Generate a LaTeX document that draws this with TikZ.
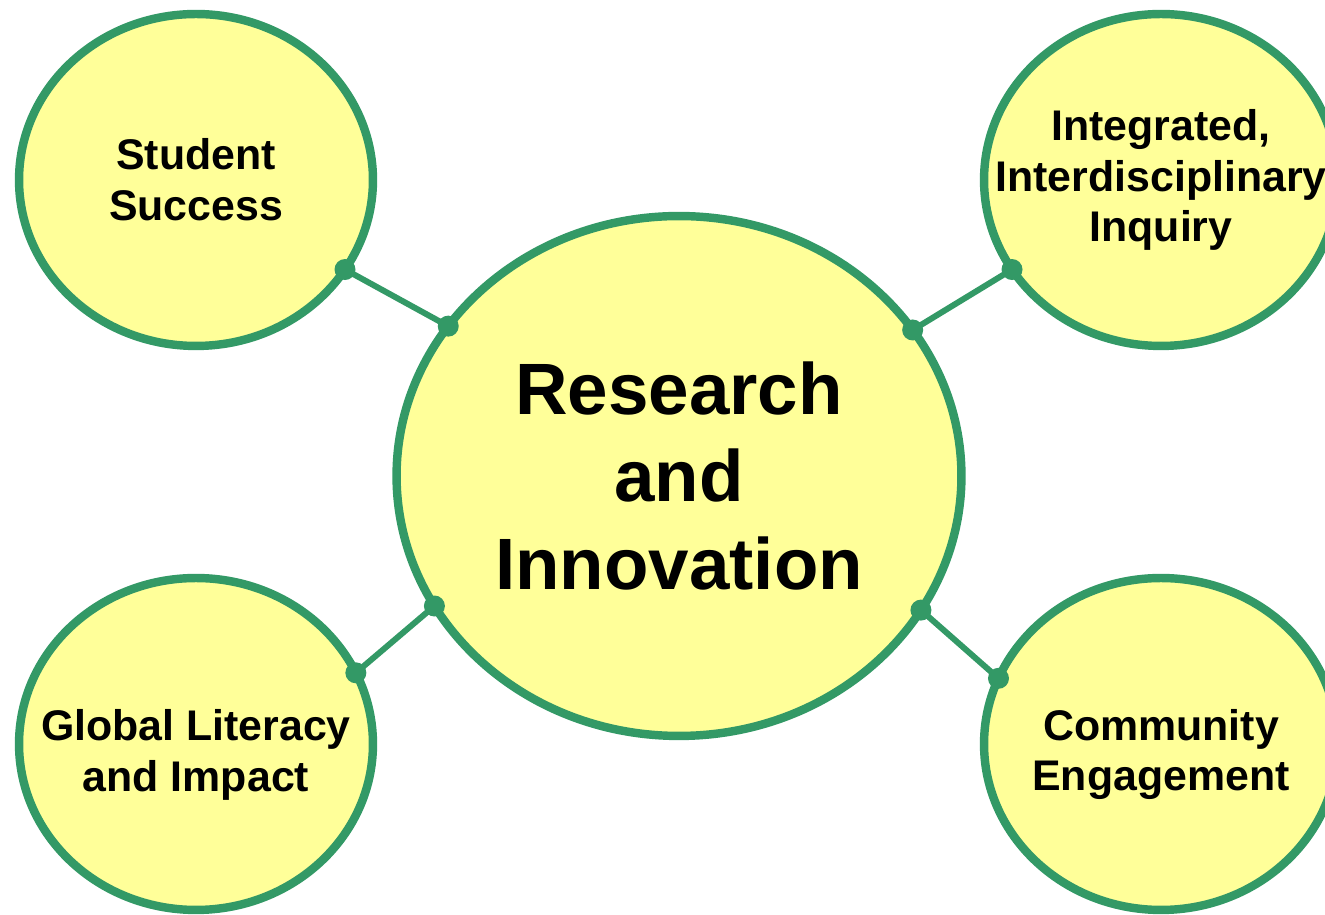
\documentclass[tikz,border=0pt]{standalone}
\usepackage{fontspec}
\setmainfont{Liberation Sans}
\usetikzlibrary{shapes.geometric}
\definecolor{ringgreen}{HTML}{339966}
\definecolor{padyellow}{HTML}{FFFF99}
\begin{document}
\begin{tikzpicture}[x=0.02cm, y=0.02cm,
    bubble/.style={ellipse, draw=ringgreen, fill=padyellow, line width=4.8pt,
      inner sep=0pt, outer sep=0pt},
    small bubble/.style={bubble, minimum width=7.08cm, minimum height=6.64cm},
    caption/.style={align=center, inner sep=0pt,
      font=\fontsize{24.4}{28.9}\selectfont\bfseries},
    link/.style={draw=ringgreen, line width=3.4pt},
    knob/.style={circle, fill=ringgreen, inner sep=0pt, minimum size=0.42cm}]
  \useasboundingbox (0,0) rectangle (1325,915);

  % middle
  \node[bubble, minimum width=11.3cm, minimum height=10.4cm] (core) at (679,439) {};
  \node[caption, font=\fontsize{41.4}{49.6}\selectfont\bfseries] (core text) at (core)
    {Research\\and\\Innovation};

  % four around it
  \node[small bubble] (student) at (196,735) {};
  \node[small bubble] (inquiry) at (1161,735) {};
  \node[small bubble] (global) at (196,171) {};
  \node[small bubble] (community) at (1161,171) {};

  \node[caption] (student text) at (student) {Student\\Success};
  \node[caption] (inquiry text) at (inquiry) {Integrated,\\Interdisciplinary\\Inquiry};
  \node[caption] (global text) at ([yshift=-6]global) {Global Literacy\\and Impact};
  \node[caption] (community text) at ([yshift=-6]community) {Community\\Engagement};

  % links with their knobs
  \foreach \from/\fa/\ta in {student/329/147, inquiry/211/32, global/24/208, community/158/331} {
    \draw[link] (\from.\fa) -- (core.\ta);
    \node[knob] (\from knob out) at (\from.\fa) {};
    \node[knob] (\from knob in) at (core.\ta) {};
  }
\end{tikzpicture}
\end{document}
